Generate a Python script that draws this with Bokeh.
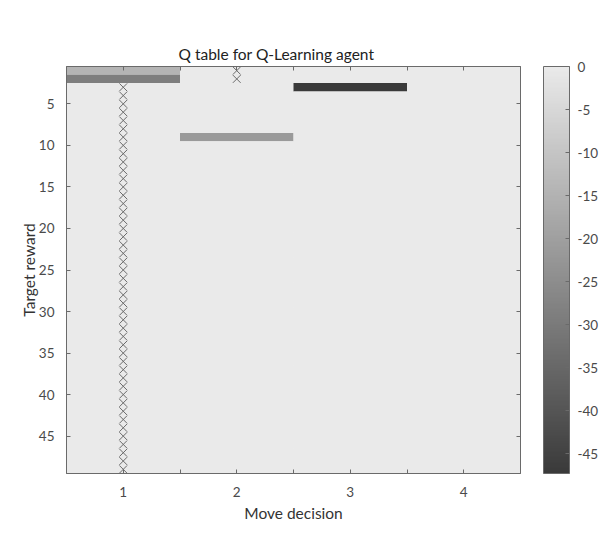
from bokeh.plotting import figure
from bokeh.models import (ColumnDataSource, LinearColorMapper, ColorBar, FixedTicker,
                          Range1d, Title, LinearAxis, AllLabels)
from bokeh.transform import transform
from bokeh.embed import file_html
from bokeh.resources import INLINE

# ---- data ----
moves = [1, 2, 3, 4]
rewards = list(range(1, 50))
# non-zero Q-table cells (everything else is 0)
nz_move = [1, 1, 2, 3]
nz_reward = [1, 2, 9, 3]
nz_value = [-14.5, -29.0, -21.5, -47.3]
# chosen-action markers
mark_move = [2, 2] + [1] * 47
mark_reward = [1, 2] + list(range(3, 50))
x_ticks = [1, 1.5, 2, 2.5, 3, 3.5, 4]
x_tick_labels = {1: "1", 1.5: "", 2: "2", 2.5: "", 3: "3", 3.5: "", 4: "4"}
y_ticks = [5, 10, 15, 20, 25, 30, 35, 40, 45]
cbar_ticks = [0, -5, -10, -15, -20, -25, -30, -35, -40, -45]
cbar_labels = {t: str(t) for t in cbar_ticks}
v_min, v_max = -47.3, 0.0

# build full table
cells = {(m, r): 0.0 for m in moves for r in rewards}
for m, r, v in zip(nz_move, nz_reward, nz_value):
    cells[(m, r)] = v
src = ColumnDataSource(dict(
    x=[k[0] for k in cells], y=[k[1] for k in cells], v=list(cells.values())))

lo, hi = 58, 234
palette = ["#%02x%02x%02x" % ((int(round(lo + (hi - lo) * i / 255)),) * 3) for i in range(256)]
mapper = LinearColorMapper(palette=palette, low=v_min, high=v_max)

FONT = "Lato"
TXT = "#4a4a4a"
AX = "#6a6a6a"

p = figure(width=601, height=552, output_backend="svg", toolbar_location=None,
           x_range=Range1d(0.5, 4.5), y_range=Range1d(49.5, 0.5),
           min_border_left=66, min_border_right=81, min_border_top=66, min_border_bottom=79,
           background_fill_color="#ebebeb", border_fill_color="white")
p.title = Title(text="Q table for Q-Learning agent", align="left", offset=112,
                text_font=FONT, text_font_size="15.5px", text_font_style="normal",
                text_color="#222222", standoff=8)

p.rect(x="x", y="y", width=1, height=1, source=src,
       fill_color=transform("v", mapper), line_color=None)
p.scatter(mark_move, mark_reward, marker="x", size=11, line_color="#6a6a6a", line_width=1)

p.grid.visible = False
p.outline_line_color = AX
p.outline_line_width = 1

def style(ax, labels=True):
    ax.axis_line_color = AX
    ax.major_tick_line_color = AX
    ax.minor_tick_line_color = None
    ax.major_tick_in = 4
    ax.major_tick_out = 0
    ax.major_label_text_font = FONT
    ax.major_label_text_font_size = "13.5px"
    ax.major_label_text_color = TXT
    ax.axis_label_text_font = FONT
    ax.axis_label_text_font_size = "15.5px"
    ax.axis_label_text_font_style = "normal"
    ax.axis_label_text_color = "#333333"
    if not labels:
        ax.major_label_text_font_size = "0px"

xa = p.xaxis[0]
xa.ticker = FixedTicker(ticks=x_ticks)
xa.major_label_overrides = x_tick_labels
xa.axis_label = "Move decision"
xa.major_label_standoff = 13
xa.axis_label_standoff = 4
style(xa)

ya = p.yaxis[0]
ya.ticker = FixedTicker(ticks=y_ticks)
ya.axis_label = "Target reward"
ya.major_label_standoff = 12
ya.axis_label_standoff = -2
style(ya)

top = LinearAxis(ticker=FixedTicker(ticks=x_ticks))
style(top, labels=False)
top.major_label_overrides = {t: "" for t in x_ticks}
p.add_layout(top, "above")
right = LinearAxis(ticker=FixedTicker(ticks=y_ticks))
style(right, labels=False)
right.major_label_overrides = {t: "" for t in y_ticks}

cb = ColorBar(color_mapper=mapper, ticker=FixedTicker(ticks=cbar_ticks),
              major_label_overrides=cbar_labels, major_label_policy=AllLabels(),
              width=26, height=407, margin=0, padding=0, location=(23, 0),
              bar_line_color=AX, major_tick_line_color=AX, major_tick_in=4, major_tick_out=0,
              minor_tick_line_color=None,
              major_label_text_font=FONT, major_label_text_font_size="13.5px",
              major_label_text_color=TXT, label_standoff=8,
              background_fill_color=None, border_line_color=None)
p.add_layout(right, "right")
p.add_layout(cb, "right")

open("out.html", "w").write(file_html(p, INLINE))
